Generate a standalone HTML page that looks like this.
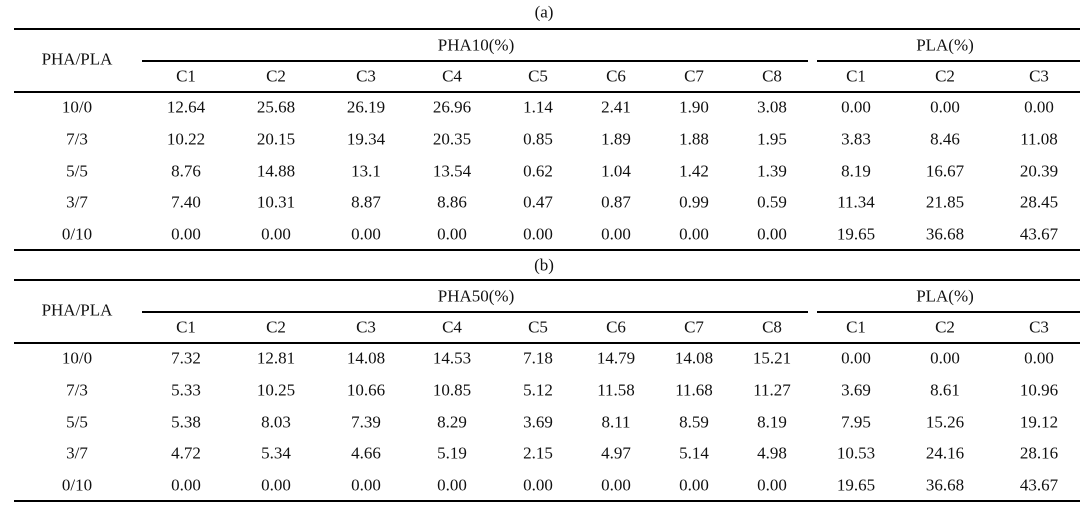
<!DOCTYPE html>
<html><head><meta charset="utf-8"><style>
body{margin:0;width:1088px;height:509px;background:#fff;position:relative;overflow:hidden;font-family:"Liberation Serif",serif;font-size:17px;color:#111}
.t{position:absolute;transform:translate(-50%,-50%);white-space:nowrap;line-height:1}
.l{position:absolute;background:#000}
</style></head><body>
<script>
const colLabels=["C1","C2","C3","C4","C5","C6","C7","C8","C1","C2","C3"];
const rowLabels=["10/0","7/3","5/5","3/7","0/10"];
const dataA=[
["12.64","25.68","26.19","26.96","1.14","2.41","1.90","3.08","0.00","0.00","0.00"],
["10.22","20.15","19.34","20.35","0.85","1.89","1.88","1.95","3.83","8.46","11.08"],
["8.76","14.88","13.1","13.54","0.62","1.04","1.42","1.39","8.19","16.67","20.39"],
["7.40","10.31","8.87","8.86","0.47","0.87","0.99","0.59","11.34","21.85","28.45"],
["0.00","0.00","0.00","0.00","0.00","0.00","0.00","0.00","19.65","36.68","43.67"]];
const dataB=[
["7.32","12.81","14.08","14.53","7.18","14.79","14.08","15.21","0.00","0.00","0.00"],
["5.33","10.25","10.66","10.85","5.12","11.58","11.68","11.27","3.69","8.61","10.96"],
["5.38","8.03","7.39","8.29","3.69","8.11","8.59","8.19","7.95","15.26","19.12"],
["4.72","5.34","4.66","5.19","2.15","4.97","5.14","4.98","10.53","24.16","28.16"],
["0.00","0.00","0.00","0.00","0.00","0.00","0.00","0.00","19.65","36.68","43.67"]];
const colX=[186,276,366,452,538,616,694,772,856,945,1039];
function txt(s,x,y,name){const d=document.createElement('div');d.className='t';d.textContent=s;d.style.left=x+'px';d.style.top=y+'px';


document.body.appendChild(d);}
function line(x1,x2,y,h,name){const d=document.createElement('div');d.className='l';d.style.left=x1+'px';d.style.width=(x2-x1)+'px';d.style.top=(y-h/2)+'px';d.style.height=h+'px';


document.body.appendChild(d);}
function table(label,labelY,top,group,data,p){
  txt(label,544,labelY,p+'-caption');
  line(14,1080,top,2,p+'-top-rule');
  line(142,808,top+32,1.5,p+'-pha-rule');
  line(817,1080,top+32,1.5,p+'-pla-rule');
  line(14,1080,top+63,2,p+'-header-rule');
  txt("PHA/PLA",77,top+30,p+'-row-header');
  txt(group,476,top+16,p+'-pha-group-header');
  txt("PLA(%)",945,top+16,p+'-pla-group-header');
  colLabels.forEach((c,i)=>txt(c,colX[i],top+47,p+'-col-header'));
  data.forEach((r,ri)=>{const y=top+78+ri*31.8;
    txt(rowLabels[ri],77,y,p+'-row-label');
    r.forEach((v,ci)=>txt(v,colX[ci],y,p+'-cell'));});
  line(14,1080,top+221,2.5,p+'-bottom-rule');
}
table("(a)",12,29,"PHA10(%)",dataA,'table-a');
table("(b)",265,280,"PHA50(%)",dataB,'table-b');
</script>
</body></html>
